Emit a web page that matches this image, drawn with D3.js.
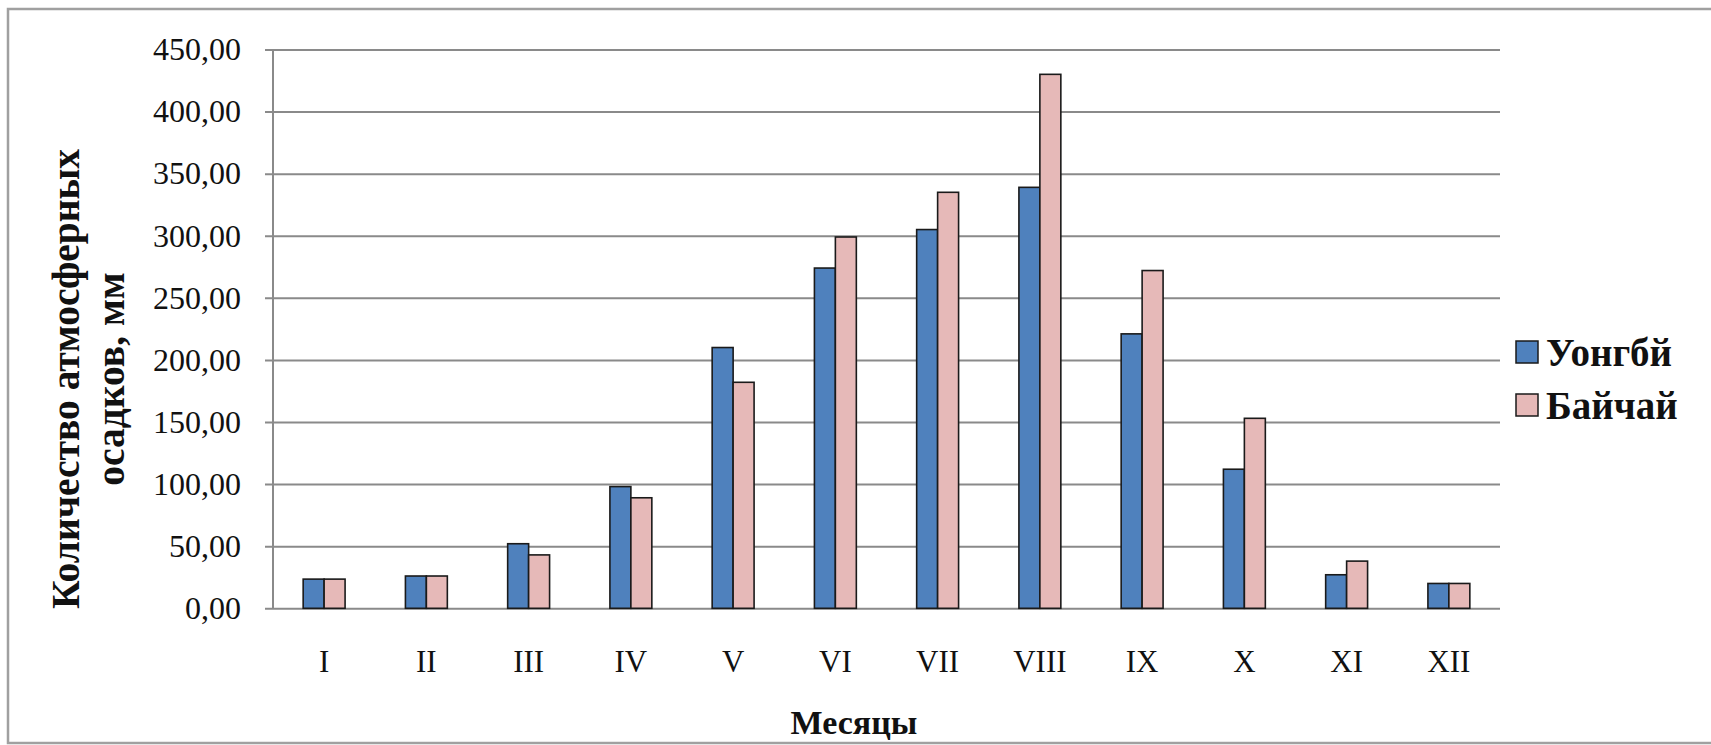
<!DOCTYPE html>
<html>
<head>
<meta charset="utf-8">
<script src="https://cdn.jsdelivr.net/npm/d3@7"></script>
<style>
html,body{margin:0;padding:0;background:#fff;}
svg{display:block;}
svg text{font-family:'Liberation Serif','DejaVu Serif','Noto Serif','Times New Roman',Times,serif !important;fill:#111;}
</style>
</head>
<body>
<svg id="chart" width="1711" height="745"></svg>
<script>
const months = ["I","II","III","IV","V","VI","VII","VIII","IX","X","XI","XII"];
const seriesNames = ["Уонгбй","Байчай"];
const uongbi = [23.5, 26, 52, 98, 210, 274, 305, 339, 221, 112, 27, 20];
const baichai = [23.5, 26, 43, 89, 182, 299, 335, 430, 272, 153, 38, 20];
const yTicks = [0,50,100,150,200,250,300,350,400,450];
const colors = ["#4F81BD","#E6B9B8"];
const yTitleLines = ["Количество атмосферных","осадков, мм"];
const xTitle = "Месяцы";

(function(){
const svg = d3.select("#chart");
const pL = 273, pR = 1500, pT = 49.5, pB = 608.3;

svg.append("rect").attr("x",8).attr("y",9).attr("width",1720).attr("height",734)
  .attr("fill","none").attr("stroke","#a0a0a0").attr("stroke-width",2.5);

const x = d3.scaleBand().domain(months).range([pL,pR]).paddingInner(0.59).paddingOuter(0.295);
const y = d3.scaleLinear().domain([0,450]).range([pB,pT]);

const yAxis = d3.axisLeft(y).tickValues(yTicks).tickSize(-(pR-pL)).tickSizeOuter(0)
  .tickFormat(d => d3.format(".2f")(d).replace(".",","));
const gy = svg.append("g").attr("transform",`translate(${pL},0)`).call(yAxis).attr("font-family",null);
gy.select(".domain").remove();
gy.selectAll(".tick line").attr("stroke","#8a8a8a").attr("stroke-width",2).attr("x1",-8);
gy.selectAll(".tick text").attr("x",-32).attr("font-size",32).attr("fill","#222");
svg.append("line").attr("x1",pL).attr("x2",pL).attr("y1",pT).attr("y2",pB)
  .attr("stroke","#8a8a8a").attr("stroke-width",2);

const xAxis = d3.axisBottom(x).tickSize(0).tickSizeOuter(0);
const gx = svg.append("g").attr("transform",`translate(0,${pB})`).call(xAxis).attr("font-family",null);
gx.select(".domain").remove();
gx.selectAll(".tick text").attr("y",54).attr("dy","0.32em").attr("font-size",31).attr("fill","#222");

const xs = d3.scaleBand().domain([0,1]).range([0,x.bandwidth()]);
const data = months.map((m,i)=>({m, vals:[uongbi[i], baichai[i]]}));
const groups = svg.append("g").selectAll("g").data(data).join("g")
  .attr("transform", d=>`translate(${x(d.m)},0)`);
groups.selectAll("rect").data(d=>d.vals.map((v,k)=>({v,k}))).join("rect")
  .attr("x", d=>xs(d.k)).attr("width", xs.bandwidth())
  .attr("y", d=>y(d.v)).attr("height", d=>y(0)-y(d.v))
  .attr("fill", d=>colors[d.k]).attr("stroke","#1a1a1a").attr("stroke-width",1.6);

svg.append("text").attr("x",854).attr("y",722).attr("dy","0.35em").attr("text-anchor","middle")
  .attr("font-size",34).attr("font-weight","bold").text(xTitle);
const yt = svg.append("g").attr("transform","translate(0,379) rotate(-90)");
yTitleLines.forEach((t,i)=>{
  yt.append("text").attr("x",0).attr("y",[65,110][i]).attr("dy","0.35em").attr("text-anchor","middle")
    .attr("font-size",39.5).attr("font-weight","bold").text(t);
});

const lg = svg.append("g");
seriesNames.forEach((s,i)=>{
  const cy = 352 + i*53;
  lg.append("rect").attr("x",1516).attr("y",cy-11).attr("width",22).attr("height",22)
    .attr("fill",colors[i]).attr("stroke","#1a1a1a").attr("stroke-width",1.5);
  lg.append("text").attr("x",1546).attr("y",cy).attr("dy","0.35em")
    .attr("font-size",39).attr("font-weight","bold").text(s);
});
})();
</script>
</body>
</html>
